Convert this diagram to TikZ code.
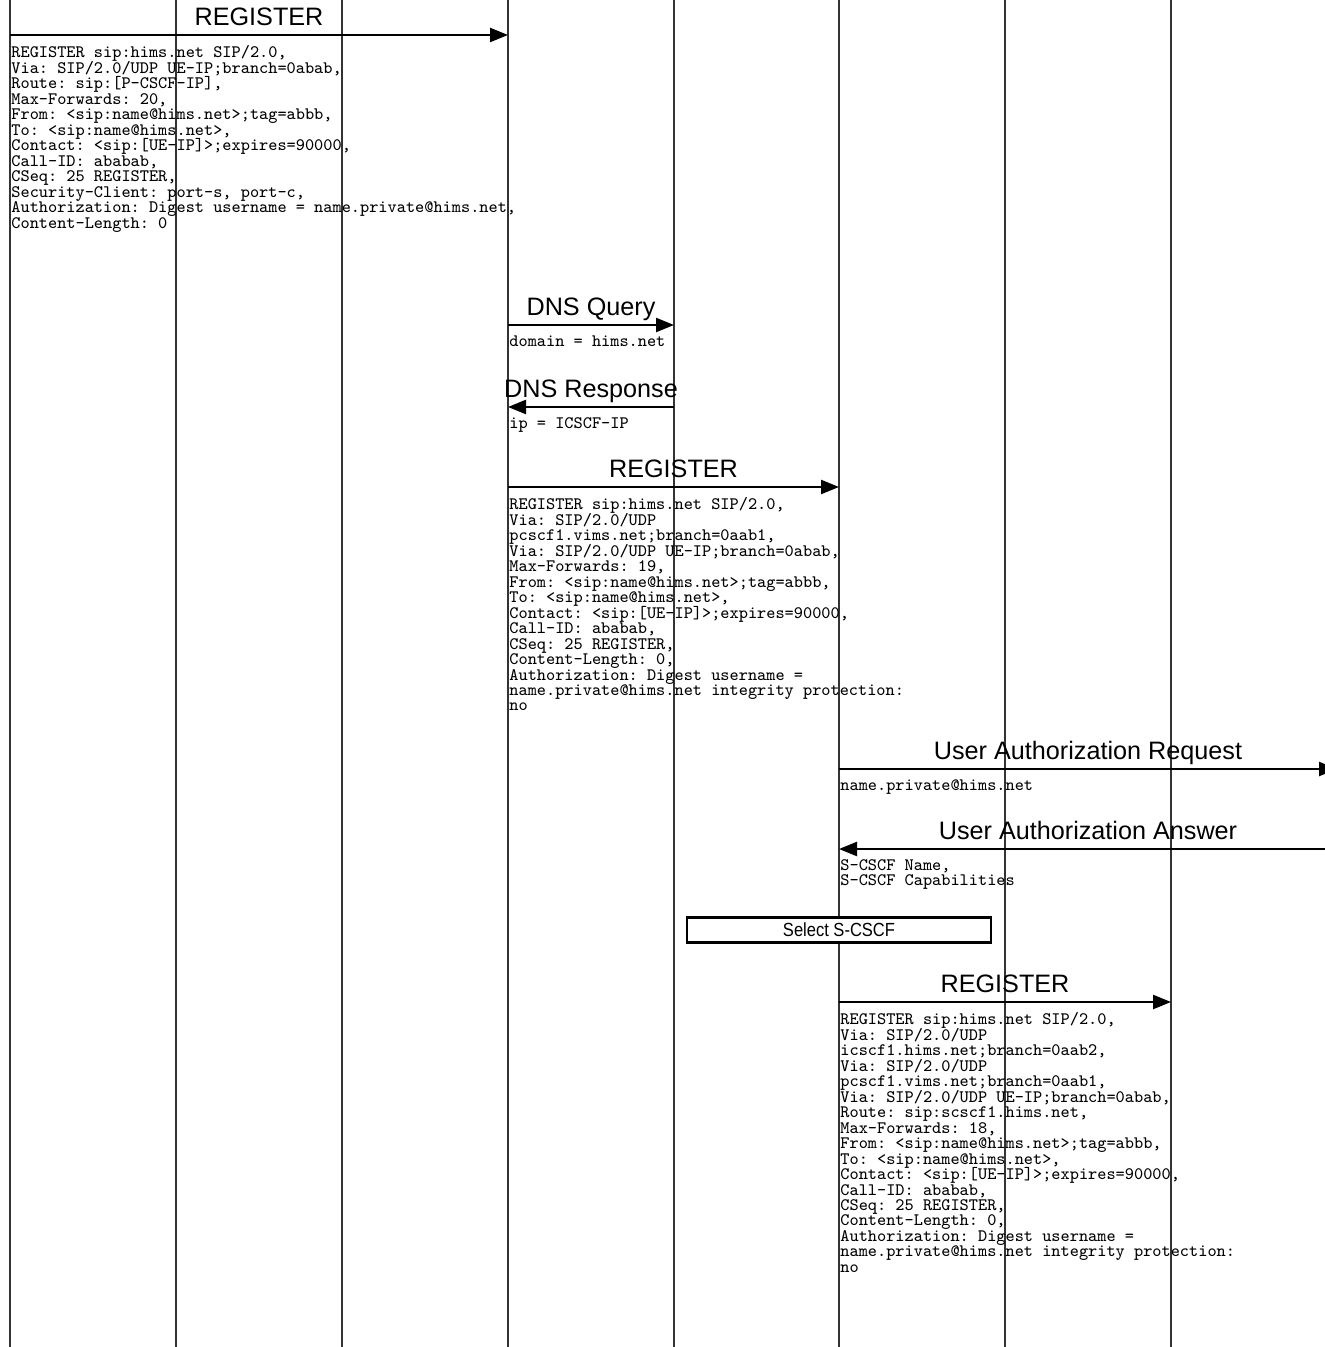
\documentclass[tikz,border=0pt]{standalone}
\usepackage{fontspec}
\usepackage{graphicx}
\setmainfont{Liberation Sans}
\usetikzlibrary{arrows.meta}

\newcommand{\paramfont}{\ttfamily\fontsize{8.74}{7.74}\selectfont\frenchspacing\lineskiplimit=-5pt\relax}

\tikzset{
  lifeline/.style={black!80, line width=0.55pt},
  msg/.style={line width=1.2pt, -{Triangle[length=9pt,width=7pt]}},
  msglabel/.style={anchor=base, inner sep=0pt, yshift=4.75pt, font=\fontsize{12.6}{14}\selectfont},
  params/.style={anchor=north west, inner sep=0pt, xshift=0.5pt, yshift=-5.1pt, align=left,
    font={\paramfont}},
  actionbox/.style={draw, line width=1.2pt, minimum width=152pt, minimum height=12.5pt, inner sep=0pt,
    font=\fontsize{9.5}{10}\selectfont}
}

\begin{document}
\begin{tikzpicture}[x=0.5pt, y=-0.5pt]
  \useasboundingbox (0,0) rectangle (1324,1347);

  \foreach \n/\x in {1/10,2/176,3/342,4/508,5/674,6/839,7/1005,8/1171,9/1337} {
    \coordinate (top\n) at (\x,0);
    \coordinate (bot\n) at (\x,1347);
  }
  \foreach \n in {1,...,8}
    \draw[lifeline] (top\n) -- (bot\n);

  \foreach \m/\y in {reg1/35,dnsq/325,dnsr/407,reg2/487,uar/769,uaa/849,sel/930,reg3/1002}
    \coordinate (\m) at (0,\y);

  \draw[msg] (top1 |- reg1) -- (top4 |- reg1) node[midway, msglabel] {REGISTER};
  \node[params] (reg1txt) at (top1 |- reg1) {REGISTER sip:hims.net SIP/2.0,\\
    Via: SIP/2.0/UDP UE-IP;branch=0abab,\\
    Route: sip:[P-CSCF-IP],\\
    Max-Forwards: 20,\\
    From: <sip:name@hims.net>;tag=abbb,\\
    To: <sip:name@hims.net>,\\
    Contact: <sip:[UE-IP]>;expires=90000,\\
    Call-ID: ababab,\\
    CSeq: 25 REGISTER,\\
    Security-Client: port-s, port-c,\\
    Authorization: Digest username = name.private@hims.net,\\
    Content-Length: 0};

  \draw[msg] (top4 |- dnsq) -- (top5 |- dnsq) node[midway, msglabel] {DNS Query};
  \node[params] (dnsqtxt) at (top4 |- dnsq) {domain = hims.net};

  \draw[msg] (top5 |- dnsr) -- (top4 |- dnsr) node[midway, msglabel] {DNS Response};
  \node[params] (dnsrtxt) at (top4 |- dnsr) {ip = ICSCF-IP};

  \draw[msg] (top4 |- reg2) -- (top6 |- reg2) node[midway, msglabel] {REGISTER};
  \node[params] (reg2txt) at (top4 |- reg2) {REGISTER sip:hims.net SIP/2.0,\\
    Via: SIP/2.0/UDP\\
    pcscf1.vims.net;branch=0aab1,\\
    Via: SIP/2.0/UDP UE-IP;branch=0abab,\\
    Max-Forwards: 19,\\
    From: <sip:name@hims.net>;tag=abbb,\\
    To: <sip:name@hims.net>,\\
    Contact: <sip:[UE-IP]>;expires=90000,\\
    Call-ID: ababab,\\
    CSeq: 25 REGISTER,\\
    Content-Length: 0,\\
    Authorization: Digest username =\\
    name.private@hims.net integrity protection:\\
    no};

  \draw[msg] (top6 |- uar) -- (top9 |- uar) node[midway, msglabel] {User Authorization Request};
  \node[params] (uartxt) at (top6 |- uar) {name.private@hims.net};

  \draw[msg] (top9 |- uaa) -- (top6 |- uaa) node[midway, msglabel] {User Authorization Answer};
  \node[params] (uaatxt) at (top6 |- uaa) {S-CSCF Name,\\
    S-CSCF Capabilities};

  \node[actionbox, fill=white] (selbox) at (top6 |- sel) {\scalebox{0.87}[1]{Select S-CSCF}};

  \draw[msg] (top6 |- reg3) -- (top8 |- reg3) node[midway, msglabel] {REGISTER};
  \node[params] (reg3txt) at (top6 |- reg3) {REGISTER sip:hims.net SIP/2.0,\\
    Via: SIP/2.0/UDP\\
    icscf1.hims.net;branch=0aab2,\\
    Via: SIP/2.0/UDP\\
    pcscf1.vims.net;branch=0aab1,\\
    Via: SIP/2.0/UDP UE-IP;branch=0abab,\\
    Route: sip:scscf1.hims.net,\\
    Max-Forwards: 18,\\
    From: <sip:name@hims.net>;tag=abbb,\\
    To: <sip:name@hims.net>,\\
    Contact: <sip:[UE-IP]>;expires=90000,\\
    Call-ID: ababab,\\
    CSeq: 25 REGISTER,\\
    Content-Length: 0,\\
    Authorization: Digest username =\\
    name.private@hims.net integrity protection:\\
    no};
\end{tikzpicture}
\end{document}
